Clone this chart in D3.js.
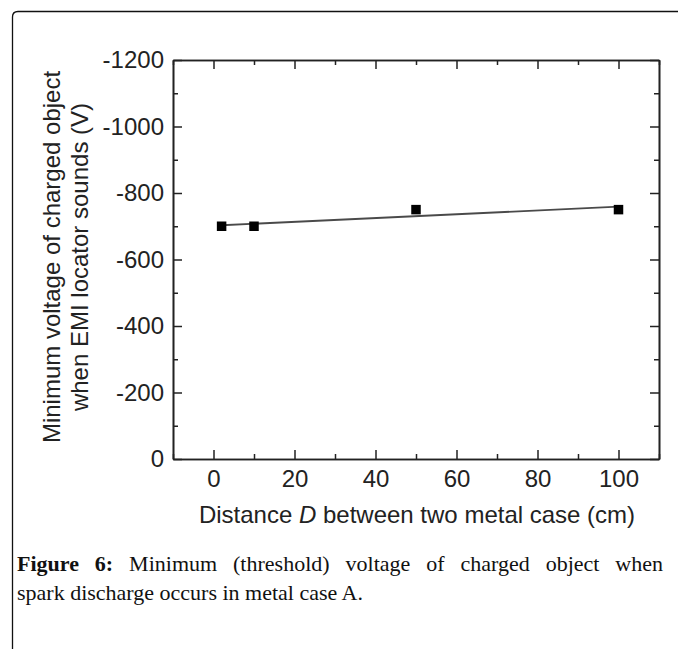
<!DOCTYPE html>
<html>
<head>
<meta charset="utf-8">
<script src="https://cdn.jsdelivr.net/npm/d3@7"></script>
<style>
  html, body { margin: 0; padding: 0; background: #fff; }
  svg { display: block; }
</style>
</head>
<body>
<svg id="fig" width="678" height="649"></svg>
<script>
// Measured threshold voltages against the spacing of the two metal cases
const distanceCm = [2, 10, 50, 100];
const thresholdV = [-700, -700, -750, -750];

// Axis tick values
const xMajorTicks = [0, 20, 40, 60, 80, 100];
const xMinorTicks = [-10, 10, 30, 50, 70, 90, 110];
const yMajorTicks = [0, -200, -400, -600, -800, -1000, -1200];
const yMinorTicks = [-100, -300, -500, -700, -900, -1100];

const xTitle = "Distance ";
const xTitleVar = "D";
const xTitleRest = " between two metal case (cm)";
const yTitleLines = ["Minimum voltage of charged object", "when EMI locator sounds (V)"];
const captionLabel = "Figure 6:";
const captionLine1 = "Minimum (threshold) voltage of charged object when";
const captionLine2 = "spark discharge occurs in metal case A.";

const svg = d3.select("#fig");
const ink = "#222";
const sans = "'Liberation Sans', Arial, sans-serif";
const serif = "'Liberation Serif', 'Times New Roman', serif";
const fontSize = 24;

// Rounded frame around the figure block
svg.append("path")
  .attr("d", "M12.5,649 L12.5,17 Q12.5,11.5 18,11.5 L678,11.5")
  .attr("fill", "none").attr("stroke", "#111").attr("stroke-width", 1.3);

const x = d3.scaleLinear().domain([-10, 110]).range([173, 659]);
const y = d3.scaleLinear().domain([0, -1200]).range([459, 60]);
const [plotLeft, plotRight] = x.range();
const [plotBottom, plotTop] = y.range();
const label = d => String(d);   // plain hyphen-minus, as printed

function styleAxis(g) {
  g.selectAll("path.domain").attr("stroke", ink).attr("stroke-width", 1.6);
  g.selectAll(".tick line").attr("stroke", ink).attr("stroke-width", 1.5);
  g.selectAll(".tick text").attr("fill", ink).attr("font-family", sans).attr("font-size", fontSize);
}

// Bottom axis with labels, ticks pointing inward
svg.append("g").attr("transform", `translate(0,${plotBottom})`)
  .call(d3.axisBottom(x).tickValues(xMajorTicks).tickSizeInner(-9).tickSizeOuter(0).tickPadding(11).tickFormat(label))
  .call(styleAxis);
svg.append("g").attr("transform", `translate(0,${plotBottom})`)
  .call(d3.axisBottom(x).tickValues(xMinorTicks).tickSizeInner(-5).tickSizeOuter(0).tickFormat(""))
  .call(styleAxis);
// Top axis, ticks only
svg.append("g").attr("transform", `translate(0,${plotTop})`)
  .call(d3.axisTop(x).tickValues(xMajorTicks).tickSizeInner(-9).tickSizeOuter(0).tickFormat(""))
  .call(styleAxis);
svg.append("g").attr("transform", `translate(0,${plotTop})`)
  .call(d3.axisTop(x).tickValues(xMinorTicks).tickSizeInner(-5).tickSizeOuter(0).tickFormat(""))
  .call(styleAxis);

// Left axis with labels
svg.append("g").attr("transform", `translate(${plotLeft},0)`)
  .call(d3.axisLeft(y).tickValues(yMajorTicks).tickSizeInner(-9).tickSizeOuter(0).tickPadding(9).tickFormat(label))
  .call(styleAxis);
svg.append("g").attr("transform", `translate(${plotLeft},0)`)
  .call(d3.axisLeft(y).tickValues(yMinorTicks).tickSizeInner(-5).tickSizeOuter(0).tickFormat(""))
  .call(styleAxis);
// Right axis, ticks only
svg.append("g").attr("transform", `translate(${plotRight},0)`)
  .call(d3.axisRight(y).tickValues(yMajorTicks).tickSizeInner(-9).tickSizeOuter(0).tickFormat(""))
  .call(styleAxis);
svg.append("g").attr("transform", `translate(${plotRight},0)`)
  .call(d3.axisRight(y).tickValues(yMinorTicks).tickSizeInner(-5).tickSizeOuter(0).tickFormat(""))
  .call(styleAxis);

// Least-squares line through the measurements
const points = distanceCm.map((d, i) => [d, thresholdV[i]]);
const mx = d3.mean(distanceCm), my = d3.mean(thresholdV);
const slope = d3.sum(points, p => (p[0] - mx) * (p[1] - my)) / d3.sum(points, p => (p[0] - mx) ** 2);
const intercept = my - slope * mx;
const xExtent = d3.extent(distanceCm);
svg.append("path")
  .datum(xExtent.map(d => [d, intercept + slope * d]))
  .attr("d", d3.line().x(d => x(d[0])).y(d => y(d[1])))
  .attr("fill", "none").attr("stroke", "#4a4a4a").attr("stroke-width", 1.8);

// Square markers
const s = 9.5;
svg.append("g").selectAll("rect").data(points).join("rect")
  .attr("x", d => x(d[0]) - s / 2).attr("y", d => y(d[1]) - s / 2)
  .attr("width", s).attr("height", s).attr("fill", "#000");

// Axis titles
const xt = svg.append("text").attr("x", (plotLeft + plotRight) / 2 + 1).attr("y", 523)
  .attr("text-anchor", "middle").attr("font-family", sans).attr("font-size", fontSize).attr("fill", ink);
xt.append("tspan").text(xTitle);
xt.append("tspan").attr("font-style", "italic").text(xTitleVar);
xt.append("tspan").text(xTitleRest);

const yt = svg.append("text")
  .attr("transform", `translate(60,257) rotate(-90)`)
  .attr("text-anchor", "middle").attr("font-family", sans).attr("font-size", fontSize).attr("fill", ink);
yTitleLines.forEach((t, i) => yt.append("tspan").attr("x", 0).attr("dy", i === 0 ? 0 : 28).text(t));

// Caption, first line justified across the column
const capLeft = 17, capRight = 663, capSize = 22;
const line1 = svg.append("g").attr("font-family", serif).attr("font-size", capSize).attr("fill", "#111");
const words1 = captionLabel.split(" ").concat(captionLine1.split(" "));
const nodes = words1.map((w, i) => line1.append("text").attr("y", 571)
  .attr("font-weight", i < 2 ? "bold" : "normal").text(w));
const widths = nodes.map(n => n.node().getComputedTextLength());
const gap = (capRight - capLeft - d3.sum(widths)) / (nodes.length - 1);
let cx = capLeft;
nodes.forEach((n, i) => { n.attr("x", cx); cx += widths[i] + gap; });

svg.append("text").attr("x", capLeft).attr("y", 600)
  .attr("font-family", serif).attr("font-size", capSize).attr("fill", "#111")
  .text(captionLine2);
</script>
</body>
</html>
